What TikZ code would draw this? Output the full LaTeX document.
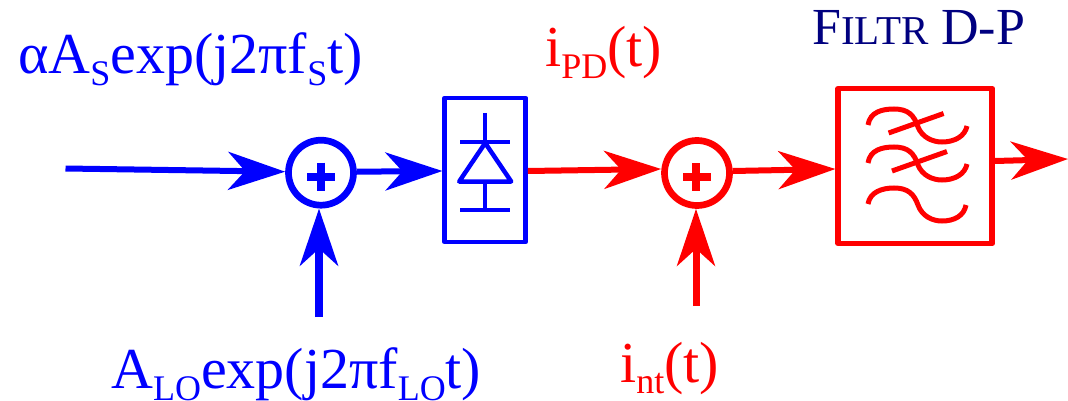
\documentclass[tikz,border=0pt]{standalone}
\usepackage{fontspec}
\setmainfont{Liberation Serif}
\usetikzlibrary{positioning, arrows.meta, calc}
\definecolor{navyfiltr}{RGB}{0,0,128}
\newcommand{\lowtxt}[1]{\raisebox{-0.2em}{\fontsize{36pt}{36pt}\selectfont #1}}
\newcommand{\capstxt}[1]{{\fontsize{41pt}{41pt}\selectfont #1}}

\begin{document}
\begin{tikzpicture}[
  x=1pt, y=-1pt,
  sumnode/.style={draw, circle, line width=6.7pt, minimum size=65pt, inner sep=0pt},
  plusbar/.style={line width=8pt},
  arr/.style={-{Stealth[length=57pt, width=38pt, inset=17pt]}, line width=6pt},
  lbl/.style={anchor=base west, inner sep=0pt, font=\fontsize{58pt}{58pt}\selectfont},
  wave/.style={line width=5pt},
  thin part/.style={line width=4.5pt}]
  \useasboundingbox (0,0) rectangle (1068,401);
  % detector side
  \node[lbl, blue] (sigtxt) at (18,74) {αA\lowtxt{S}exp(j2πf\lowtxt{S}t)};
  \node[lbl, blue] (lotxt) at (111,388.5) {A\lowtxt{LO}exp(j2πf\lowtxt{LO}t)};
  \coordinate (sigin) at (65.5,168.5);
  \coordinate (loin) at (319,317);
  \node[sumnode, blue] (s1) at (321,172.7) {};
  \node[draw, blue, line width=4.5pt, line join=round, minimum width=81pt, minimum height=144pt] (pd) at (485.2,170) {};
  \draw[arr, blue] (sigin) -- ($(s1.west)+(0,-1)$);
  \draw[arr, blue] ($(s1.east)+(0,-1)$) -- ($(pd.west)+(0,1)$);
  \draw[arr, blue, line width=8pt] (loin) -- (loin |- s1.south);
  \draw[plusbar, blue] ($(s1)+(-14,4)$) -- ++(28,0);
  \draw[plusbar, blue] ($(s1)+(0,-10)$) -- ++(0,28);
  % diode symbol
  \draw[thin part, blue] ($(pd)+(0,-57)$) -- ++(0,29);
  \draw[thin part, blue] ($(pd)+(-25,-28)$) -- ++(50,0);
  \draw[thin part, blue, line join=round] ($(pd)+(0,-27)$) -- ++(26,38.5) -- ++(-52,0) -- cycle;
  \draw[thin part, blue] ($(pd)+(0,11.5)$) -- ++(0,28.5);
  \draw[thin part, blue] ($(pd)+(-25,40)$) -- ++(50,0);
  % filter side
  \node[lbl, red] (pdtxt) at (545,67) {i\lowtxt{PD}(t)};
  \node[lbl, red] (inttxt) at (620,382) {i\lowtxt{nt}(t)};
  \node[lbl, navyfiltr, font=\fontsize{52pt}{52pt}\selectfont] (filttxt) at (812,45) {F\capstxt{ILTR} D-P};
  \coordinate (intin) at (696,306);
  \coordinate (outend) at (1068,159);
  \node[sumnode, red] (s2) at (697,173) {};
  \node[draw, red, line width=5.5pt, line join=round, minimum width=154pt, minimum height=155pt] (lpf) at (915.2,166) {};
  \draw[arr, red] ($(pd.east)+(0,1)$) -- ($(s2.west)+(0,-4)$);
  \draw[arr, red] ($(s2.east)+(0,-2)$) -- ($(lpf.west)+(0,3)$);
  \draw[arr, red] ($(lpf.east)+(0,-5)$) -- (outend);
  \draw[arr, red, line width=7pt] (intin) -- (intin |- s2.south);
  \draw[plusbar, red] ($(s2)+(-14,4)$) -- ++(28,0);
  \draw[plusbar, red] ($(s2)+(-1,-10)$) -- ++(0,28);
  % stop bands
  \foreach \dy/\sx in {0/888.6, 38/892} {
    \draw[wave, red] (868,125+\dy) .. controls (870,112+\dy) and (882,109+\dy) .. (894,109+\dy)
      .. controls (908,109+\dy) and (914,115+\dy) .. (918,127+\dy)
      .. controls (922,137+\dy) and (932,142+\dy) .. (942,142+\dy)
      .. controls (955,142+\dy) and (965,136+\dy) .. (967,126+\dy);
    \draw[wave, red] (\sx,133+\dy) -- ++(55,-19.5);
  }
  \draw[wave, red] (868,204) .. controls (870,192) and (882,188) .. (894,188)
    .. controls (908,188) and (914,194) .. (918,205)
    .. controls (922,216) and (932,221) .. (942,221)
    .. controls (954,221) and (964,216) .. (966,205);
\end{tikzpicture}
\end{document}
